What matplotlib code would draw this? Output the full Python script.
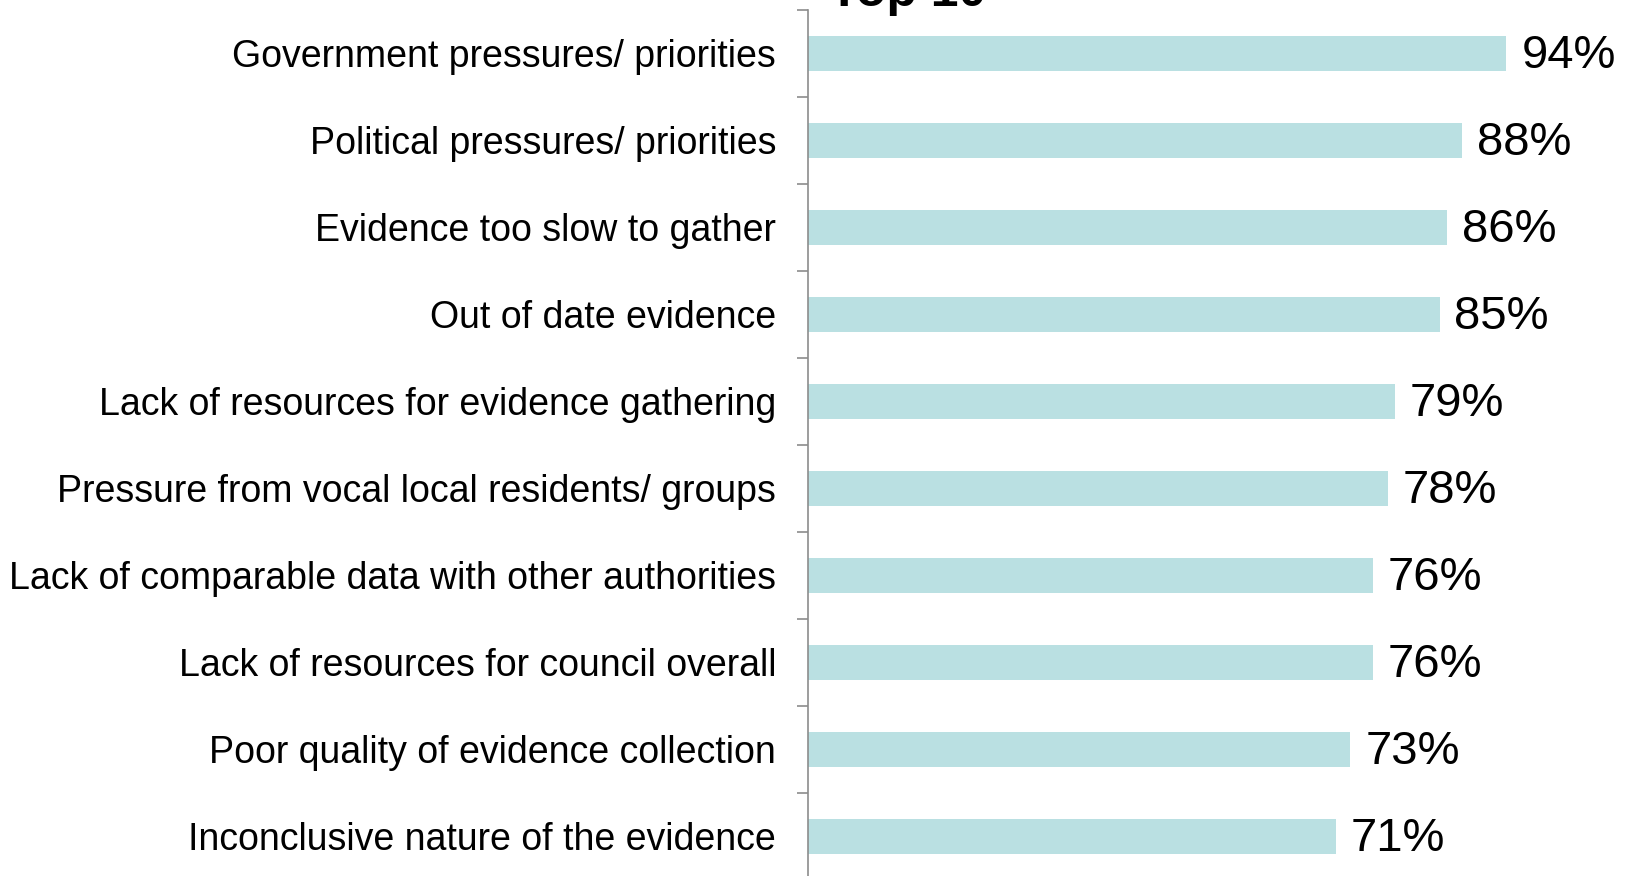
import matplotlib
matplotlib.use("Agg")
import matplotlib.pyplot as plt
import numpy as np

categories = [
    "Government pressures/ priorities",
    "Political pressures/ priorities",
    "Evidence too slow to gather",
    "Out of date evidence",
    "Lack of resources for evidence gathering",
    "Pressure from vocal local residents/ groups",
    "Lack of comparable data with other authorities",
    "Lack of resources for council overall",
    "Poor quality of evidence collection",
    "Inconclusive nature of the evidence",
]
values = [94, 88, 86, 85, 79, 78, 76, 76, 73, 71]
value_labels = [f"{v}%" for v in values]
title = "Top 10"

plt.rcParams['font.family'] = ['Liberation Sans', 'DejaVu Sans']

W, H = 1637, 876
fig = plt.figure(figsize=(W / 100, H / 100), dpi=100)
ax = fig.add_axes([808 / W, -4 / H, (W - 808) / W, (876 - 10 + 4) / H])

y = np.arange(len(categories))
ax.barh(y, values, height=0.4, color="#BAE0E2", left=0)
ax.set_xlim(0, (W - 808) / 7.43)
ax.set_ylim(len(categories) - 0.5, -0.5)

for yi, v, lab in zip(y, values, value_labels):
    ax.text(v + 2.0, yi + 0.03, lab, va="center", ha="left", fontsize=34, color="black")

ax.set_yticks(y)
ax.set_yticklabels(categories, fontsize=27)
ax.tick_params(axis="y", which="major", length=0, pad=23)
ax.set_yticks(np.arange(-0.5, len(categories), 1.0), minor=True)
ax.tick_params(axis="y", which="minor", length=8, width=1.2, color="#8c8c8c", direction="out")
ax.set_xticks([])
for s in ["top", "right", "bottom"]:
    ax.spines[s].set_visible(False)
ax.spines["left"].set_color("#8c8c8c")
ax.spines["left"].set_linewidth(1.2)

fig.text(908 / W, 1 - 6 / H, title, ha="center", va="baseline", fontsize=36, fontweight="bold")

fig.savefig("out.png", dpi=100)
